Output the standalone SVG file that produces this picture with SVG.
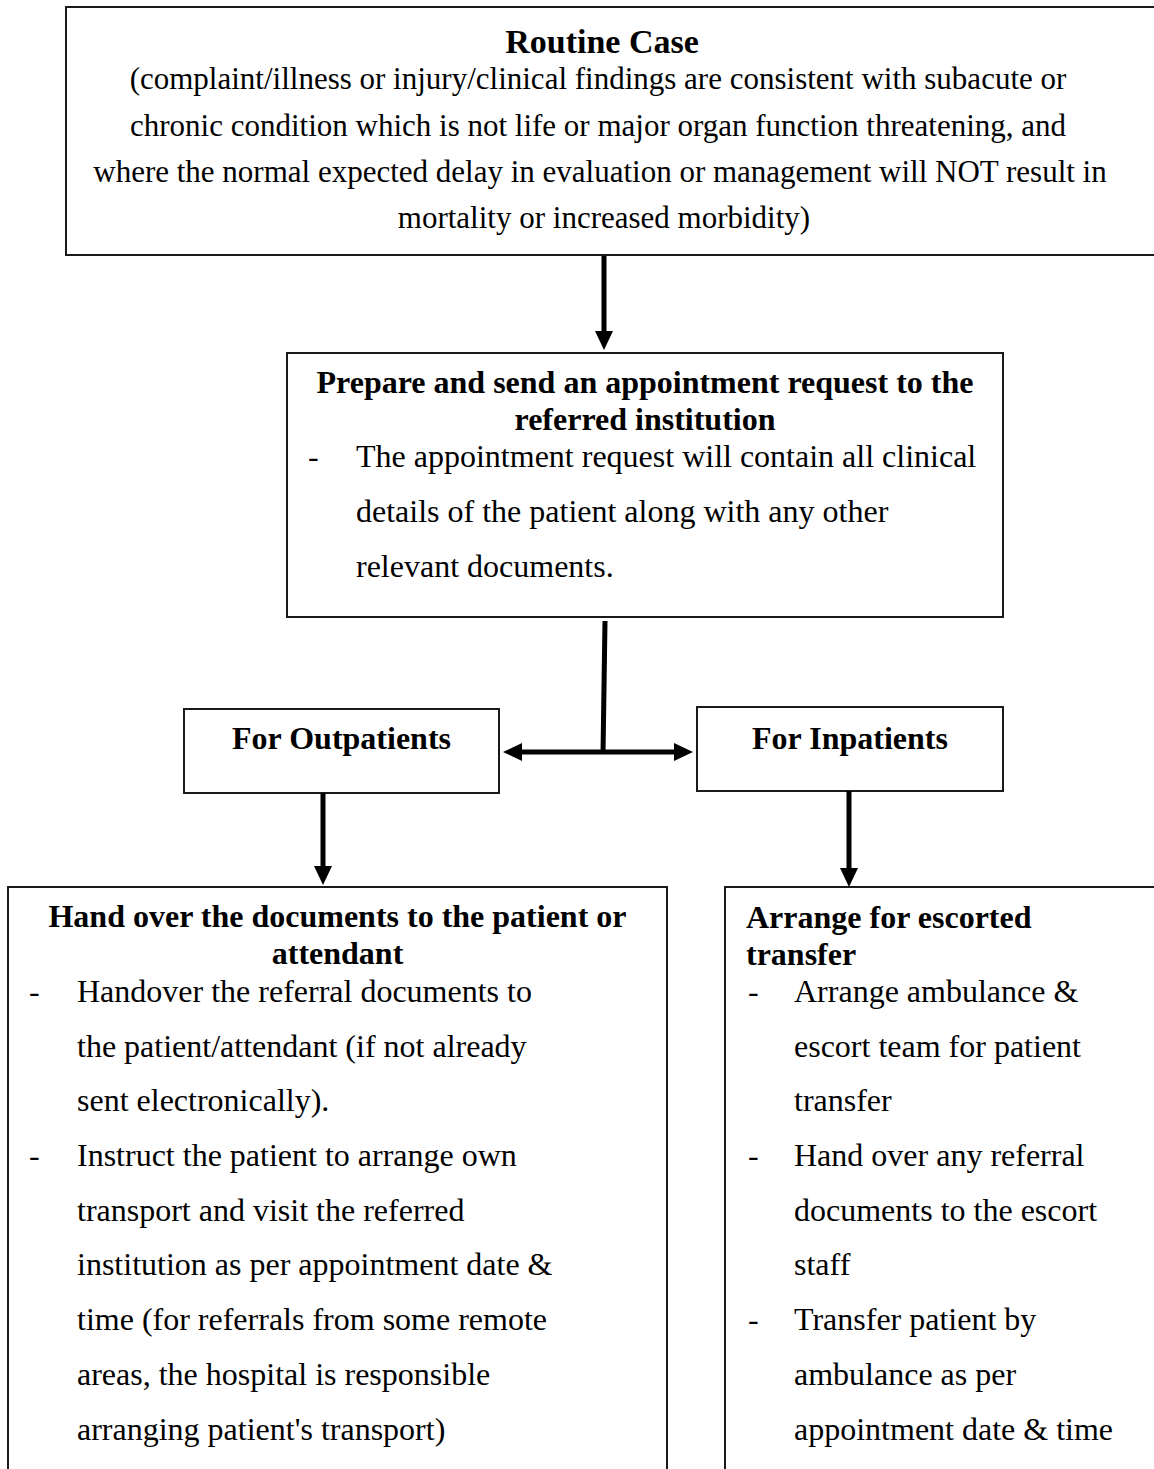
<svg xmlns="http://www.w3.org/2000/svg" width="1154" height="1469" viewBox="0 0 1154 1469">
<style>
.box{fill:#fff;stroke:#1a1a1a;stroke-width:2}
.t{font-family:"Liberation Serif","Times New Roman",serif;font-size:32px;fill:#000}
.b{font-weight:bold}
.c{text-anchor:middle}
.top{font-size:31px}
.conn{stroke:#000;stroke-width:5;fill:none}
</style>
<defs>
<marker id="ah" markerUnits="userSpaceOnUse" markerWidth="19" markerHeight="18" refX="0" refY="9" orient="auto-start-reverse">
<path d="M0,0 L19,9 L0,18 z" fill="#000"/>
</marker>
</defs>
<rect width="1154" height="1469" fill="#fff"/>
<g id="routine">
<rect class="box" x="66" y="7" width="1100" height="248"/>
<text class="t b c" x="602" y="53" style="font-size:34px">Routine Case</text>
<text class="t top c" x="598" y="89">(complaint/illness or injury/clinical findings are consistent with subacute or</text>
<text class="t top c" x="598" y="136">chronic condition which is not life or major organ function threatening, and</text>
<text class="t top c" x="600" y="182">where the normal expected delay in evaluation or management will NOT result in</text>
<text class="t top c" x="604" y="228">mortality or increased morbidity)</text>
</g>
<g id="prepare">
<rect class="box" x="287" y="353" width="716" height="264"/>
<text class="t b c" x="645" y="393">Prepare and send an appointment request to the</text>
<text class="t b c" x="645" y="430">referred institution</text>
<text class="t" x="308" y="467">-</text>
<text class="t" x="356" y="467">The appointment request will contain all clinical</text>
<text class="t" x="356" y="522">details of the patient along with any other</text>
<text class="t" x="356" y="577">relevant documents.</text>
</g>
<g id="outpatients">
<rect class="box" x="184" y="709" width="315" height="84"/>
<text class="t b c" x="341.5" y="749">For Outpatients</text>
</g>
<g id="inpatients">
<rect class="box" x="697" y="707" width="306" height="84"/>
<text class="t b c" x="850" y="749">For Inpatients</text>
</g>
<g id="handover">
<rect class="box" x="8" y="887" width="659" height="600"/>
<text class="t b c" x="337.5" y="927">Hand over the documents to the patient or</text>
<text class="t b c" x="337.5" y="964">attendant</text>
<text class="t" x="29" y="1002">-</text>
<text class="t" x="77" y="1002">Handover the referral documents to</text>
<text class="t" x="77" y="1057">the patient/attendant (if not already</text>
<text class="t" x="77" y="1111">sent electronically).</text>
<text class="t" x="29" y="1166">-</text>
<text class="t" x="77" y="1166">Instruct the patient to arrange own</text>
<text class="t" x="77" y="1221">transport and visit the referred</text>
<text class="t" x="77" y="1275">institution as per appointment date &amp;</text>
<text class="t" x="77" y="1330">time (for referrals from some remote</text>
<text class="t" x="77" y="1385">areas, the hospital is responsible</text>
<text class="t" x="77" y="1440">arranging patient's transport)</text>
</g>
<g id="escorted">
<rect class="box" x="725" y="887" width="460" height="600"/>
<text class="t b" x="746" y="928">Arrange for escorted</text>
<text class="t b" x="746" y="965">transfer</text>
<text class="t" x="748" y="1002">-</text>
<text class="t" x="794" y="1002">Arrange ambulance &amp;</text>
<text class="t" x="794" y="1057">escort team for patient</text>
<text class="t" x="794" y="1111">transfer</text>
<text class="t" x="748" y="1166">-</text>
<text class="t" x="794" y="1166">Hand over any referral</text>
<text class="t" x="794" y="1221">documents to the escort</text>
<text class="t" x="794" y="1275">staff</text>
<text class="t" x="748" y="1330">-</text>
<text class="t" x="794" y="1330">Transfer patient by</text>
<text class="t" x="794" y="1385">ambulance as per</text>
<text class="t" x="794" y="1440">appointment date &amp; time</text>
</g>
<g id="connectors">
<path class="conn" d="M604,256 L604,331" marker-end="url(#ah)"/>
<path class="conn" d="M605,621 L603,754"/>
<path class="conn" d="M522,752 L674,752" marker-start="url(#ah)" marker-end="url(#ah)"/>
<path class="conn" d="M323,793 L323,866" marker-end="url(#ah)"/>
<path class="conn" d="M849,791 L849,868" marker-end="url(#ah)"/>
</g>
</svg>
